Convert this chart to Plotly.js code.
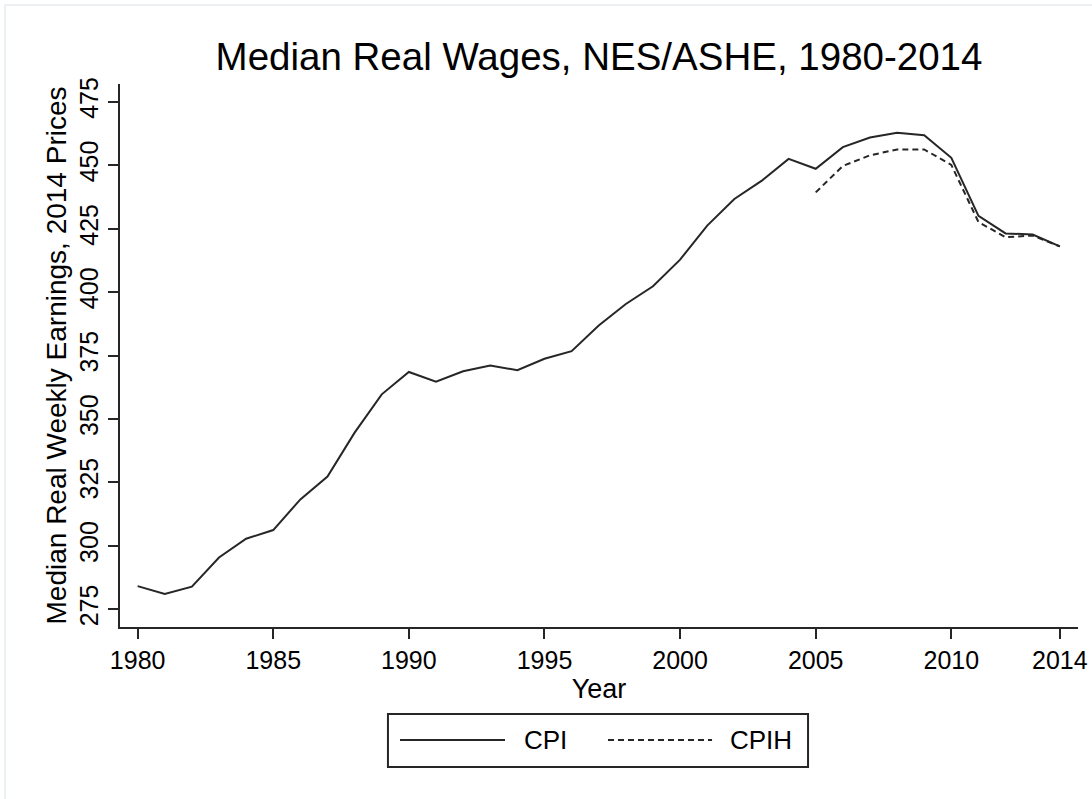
<!DOCTYPE html>
<html>
<head>
<meta charset="utf-8">
<script src="https://cdn.plot.ly/plotly-3.0.1.min.js"></script>
<style>html,body{margin:0;padding:0;background:#fff;}#chart{width:1092px;height:799px;}</style>
</head>
<body>
<div id="chart"></div>
<script>
const years = [1980,1981,1982,1983,1984,1985,1986,1987,1988,1989,1990,1991,1992,1993,1994,1995,1996,1997,1998,1999,2000,2001,2002,2003,2004,2005,2006,2007,2008,2009,2010,2011,2012,2013,2014];
const cpi = [284.1,281.0,283.9,295.4,302.8,306.2,318.3,327.3,344.6,359.7,368.5,364.7,368.8,371.1,369.2,373.7,376.7,386.8,395.3,402.3,412.8,426.2,436.7,443.8,452.5,448.6,457.1,460.9,462.8,461.8,452.9,430.0,423.1,422.7,418.0];
const cpihYears = [2005,2006,2007,2008,2009,2010,2011,2012,2013,2014];
const cpih = [439.3,449.7,453.9,456.2,456.2,450.1,427.6,421.6,422.3,418.0];
const yTicks = [275,300,325,350,375,400,425,450,475];
const xTicks = [1980,1985,1990,1995,2000,2005,2010,2014];
const seriesNames = ['CPI','CPIH'];

const FONT = 'Liberation Sans, Arial, sans-serif';
const lineColor = '#262626';

const traces = [
  {x: years, y: cpi, type: 'scatter', mode: 'lines', name: seriesNames[0],
   line: {color: lineColor, width: 2}, showlegend: false},
  {x: cpihYears, y: cpih, type: 'scatter', mode: 'lines', name: seriesNames[1],
   line: {color: lineColor, width: 2, dash: '6px,4px'}, showlegend: false}
];

const layout = {
  width: 1092, height: 799,
  margin: {l: 120, r: 14, t: 84, b: 172},
  paper_bgcolor: '#fff', plot_bgcolor: '#fff',
  font: {family: FONT, color: '#000'},
  title: {text: 'Median Real Wages, NES/ASHE, 1980-2014', font: {size: 38.5, family: FONT, color: '#000'},
          x: 0.5, xref: 'paper', xanchor: 'center', y: 0.929, yref: 'container', yanchor: 'middle'},
  xaxis: {
    range: [1979.35, 2014.67], tickvals: xTicks, ticktext: xTicks.map(String),
    showgrid: false, zeroline: false, showline: true, linecolor: lineColor, linewidth: 2,
    ticks: 'outside', ticklen: 10, tickwidth: 2, tickcolor: lineColor,
    tickfont: {size: 25, family: FONT, color: '#000'},
    title: {text: 'Year', font: {size: 27, family: FONT, color: '#000'}, standoff: 0}
  },
  yaxis: {
    range: [268, 482], tickvals: yTicks, ticktext: yTicks.map(String), tickangle: -90,
    showgrid: false, zeroline: false, showline: true, linecolor: lineColor, linewidth: 2,
    ticks: 'outside', ticklen: 10, tickwidth: 2, tickcolor: lineColor,
    tickfont: {size: 25, family: FONT, color: '#000'},
    title: {text: 'Median Real Weekly Earnings, 2014 Prices', font: {size: 28, family: FONT, color: '#000'}, standoff: 0}
  },
  shapes: [
    {type: 'rect', xref: 'paper', yref: 'paper', x0: -0.12, x1: 1.2, y0: -0.6, y1: 1.1455,
     line: {color: '#e6ecf0', width: 1.5}, layer: 'below'},
    {type: 'rect', xref: 'paper', yref: 'paper', x0: 0.2797, x1: 0.7182, y0: -0.1602, y1: -0.2578,
     line: {color: lineColor, width: 2}},
    {type: 'line', xref: 'paper', yref: 'paper', x0: 0.2923, x1: 0.4019, y0: -0.2081, y1: -0.2081,
     line: {color: lineColor, width: 2}},
    {type: 'line', xref: 'paper', yref: 'paper', x0: 0.5094, x1: 0.6180, y0: -0.2081, y1: -0.2081,
     line: {color: lineColor, width: 2, dash: '6px,4px'}}
  ],
  annotations: [
    {text: seriesNames[0], xref: 'paper', yref: 'paper', x: 0.4196, y: -0.2081, xanchor: 'left', yanchor: 'middle',
     showarrow: false, font: {size: 26, family: FONT, color: '#000'}},
    {text: seriesNames[1], xref: 'paper', yref: 'paper', x: 0.6347, y: -0.2081, xanchor: 'left', yanchor: 'middle',
     showarrow: false, font: {size: 26, family: FONT, color: '#000'}}
  ]
};

Plotly.newPlot('chart', traces, layout, {displayModeBar: false, staticPlot: true});
</script>
</body>
</html>
